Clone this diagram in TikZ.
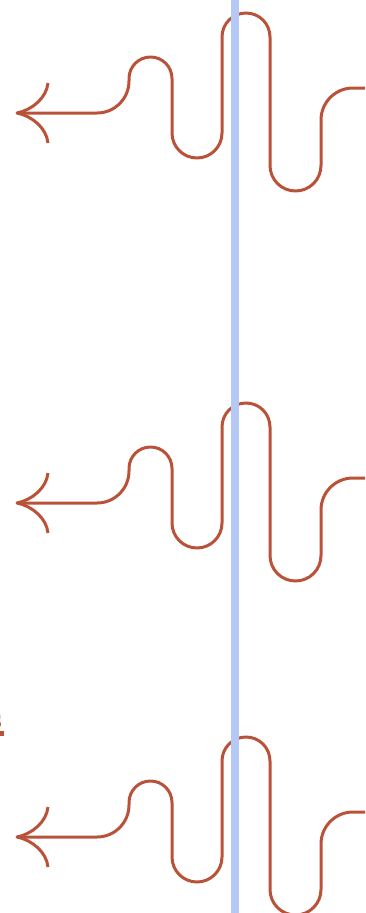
\documentclass[tikz,border=0pt]{standalone}
\definecolor{wavered}{RGB}{186,82,57}
\definecolor{lineblue}{RGB}{181,201,246}
\tikzset{
  wavestroke/.style={draw=wavered, line width=3pt, line join=round},
  wave/.pic={
    \coordinate (-tip) at (17,113);
    \draw[wavestroke] (-tip) -- (97,113)
      .. controls (114.7,113) and (129,98.7) .. (129,81) -- (129,78.5)
      .. controls (129,66.6) and (138.6,57) .. (150.5,57)
      .. controls (162.4,57) and (172,66.6) .. (172,78.5) -- (172,133)
      .. controls (172,146.8) and (183.2,158) .. (197,158)
      .. controls (210.8,158) and (222,146.8) .. (222,133) -- (222,37)
      .. controls (222,23.7) and (232.7,13) .. (246,13)
      .. controls (259.3,13) and (270,23.7) .. (270,37) -- (270,165.5)
      .. controls (270,179.6) and (281.4,191) .. (295.5,191)
      .. controls (309.6,191) and (321,179.6) .. (321,165.5) -- (321,120)
      .. controls (321,102.3) and (335.3,88) .. (353,88) -- (372,88);
    \draw[wavestroke] (48,83) .. controls (46.5,98) and (32,110) .. (-tip)
      .. controls (32,116) and (46.5,128) .. (48,143);
  }
}
\begin{document}
\begin{tikzpicture}[x=1pt,y=-1pt]
  \useasboundingbox (0,0) rectangle (365,913);
  \clip (0,0) rectangle (365,913);
  \pic (w1) at (0,0) {wave};
  \pic (w2) at (0,390) {wave};
  \pic (w3) at (0,724) {wave};
  \node[anchor=base east, text=wavered, inner sep=0pt, font=\fontsize{30}{30}\selectfont] (frag) at (2,728) {s};
  \fill[wavered] (-20,731) rectangle (4,736);
  \coordinate (btop) at (235,-5);
  \coordinate (bbot) at (235,920);
  \draw[lineblue, line width=8pt] (btop) -- (bbot);
\end{tikzpicture}
\end{document}
